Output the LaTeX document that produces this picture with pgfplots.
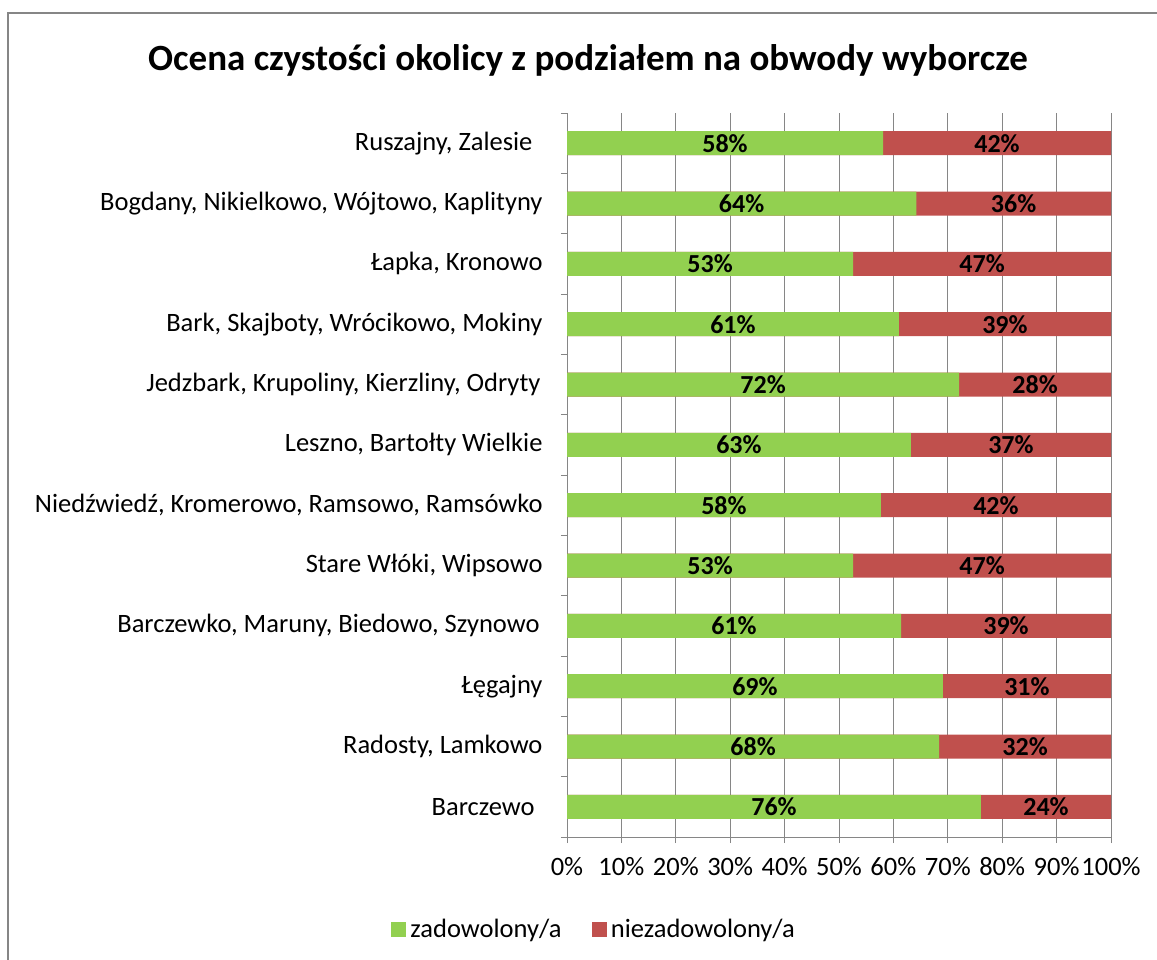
\documentclass[border=0pt]{standalone}
\usepackage{pgfplots}
\pgfplotsset{compat=1.18}
\usepackage{fontspec}
\setmainfont{Carlito}
\definecolor{gr}{HTML}{92D050}
\definecolor{rd}{HTML}{C0504D}
\definecolor{ax}{HTML}{868686}
\begin{document}
\begin{tikzpicture}
\useasboundingbox (0pt,0pt) rectangle (1157pt,-960pt);
\draw[ax, line width=2.2pt] (8pt,-965pt) -- (8pt,-13pt) -- (1165pt,-13pt);
\node[font=\fontsize{37}{42}\selectfont\bfseries] at (588pt,-60pt) {Ocena czystości okolicy z podziałem na obwody wyborcze};
\begin{axis}[
  at={(567pt,-837pt)}, anchor=south west,
  width=544pt, height=724pt, scale only axis,
  xmin=0, xmax=100, ymin=-0.5, ymax=11.5,
  axis lines*=left,
  axis line style={ax, line width=1pt},
  xtick={0,10,...,100},
  xticklabels={0\%,10\%,20\%,30\%,40\%,50\%,60\%,70\%,80\%,90\%,100\%},
  xmajorgrids, grid style={ax, line width=0.9pt},
  tick align=outside, major tick length=6pt,
  tick style={ax, line width=0.9pt},
  ytick={-0.5,0.5,1.5,2.5,3.5,4.5,5.5,6.5,7.5,8.5,9.5,10.5,11.5},
  y tick label as interval,
  yticklabels={Barczewo\kern8pt,{Radosty, Lamkowo},Łęgajny,{Barczewko, Maruny, Biedowo, Szynowo\kern3pt},{Stare Włóki, Wipsowo},{Niedźwiedź, Kromerowo, Ramsowo, Ramsówko},{Leszno, Bartołty Wielkie},{Jedzbark, Krupoliny, Kierzliny, Odryty\kern2pt},{Bark, Skajboty, Wrócikowo, Mokiny},{Łapka, Kronowo},{Bogdany, Nikielkowo, Wójtowo, Kaplityny},{Ruszajny, Zalesie\kern10pt}},
  ticklabel style={font=\fontsize{26.5}{30}\selectfont, text=black},
  yticklabel style={xshift=-15pt},
  xticklabel style={yshift=-11pt},
  legend style={at={(rel axis cs:0.0496,-0.1278)}, anchor=center, legend columns=2, draw=none, fill=none,
    font=\fontsize{26.5}{30}\selectfont, /tikz/every even column/.append style={column sep=28pt},
    /tikz/every odd column/.append style={column sep=0pt}},
  legend cell align=left,
]
% red (full) bars
\addplot[xbar, bar width=24pt, bar shift=0pt, fill=rd, draw=none, forget plot] coordinates {
(100,0) (100,1) (100,2) (100,3) (100,4) (100,5) (100,6) (100,7) (100,8) (100,9) (100,10) (100,11)};
% green bars
\addplot[xbar, bar width=24pt, bar shift=0pt, fill=gr, draw=none, forget plot] coordinates {
(76.1,0) (68.4,1) (69.1,2) (61.4,3) (52.6,4) (57.7,5) (63.2,6) (72.1,7) (61.0,8) (52.6,9) (64.2,10) (58.1,11)};
% labels green
\addplot[draw=none, mark=none, forget plot, nodes near coords={\pgfplotspointmeta\%}, point meta=explicit symbolic,
  every node near coord/.style={anchor=center, inner sep=0pt, font=\fontsize{26}{28}\selectfont\bfseries, text=black}] coordinates {
(38.05,0) [76] (34.2,1) [68] (34.55,2) [69] (30.7,3) [61] (26.3,4) [53] (28.85,5) [58] (31.6,6) [63] (36.05,7) [72] (30.5,8) [61] (26.3,9) [53] (32.1,10) [64] (29.05,11) [58]};
% labels red
\addplot[draw=none, mark=none, forget plot, nodes near coords={\pgfplotspointmeta\%}, point meta=explicit symbolic,
  every node near coord/.style={anchor=center, inner sep=0pt, font=\fontsize{26}{28}\selectfont\bfseries, text=black}] coordinates {
(88.05,0) [24] (84.2,1) [32] (84.55,2) [31] (80.7,3) [39] (76.3,4) [47] (78.85,5) [42] (81.6,6) [37] (86.05,7) [28] (80.5,8) [39] (76.3,9) [47] (82.1,10) [36] (79.05,11) [42]};
\addlegendimage{legend image code/.code={\fill[gr] (0pt,-7pt) rectangle (14pt,7pt); \path (17pt,0pt);}}
\addlegendentry{zadowolony/a}
\addlegendimage{legend image code/.code={\fill[rd] (0pt,-7pt) rectangle (14pt,7pt); \path (17pt,0pt);}}
\addlegendentry{niezadowolony/a}
\end{axis}
\end{tikzpicture}
\end{document}
